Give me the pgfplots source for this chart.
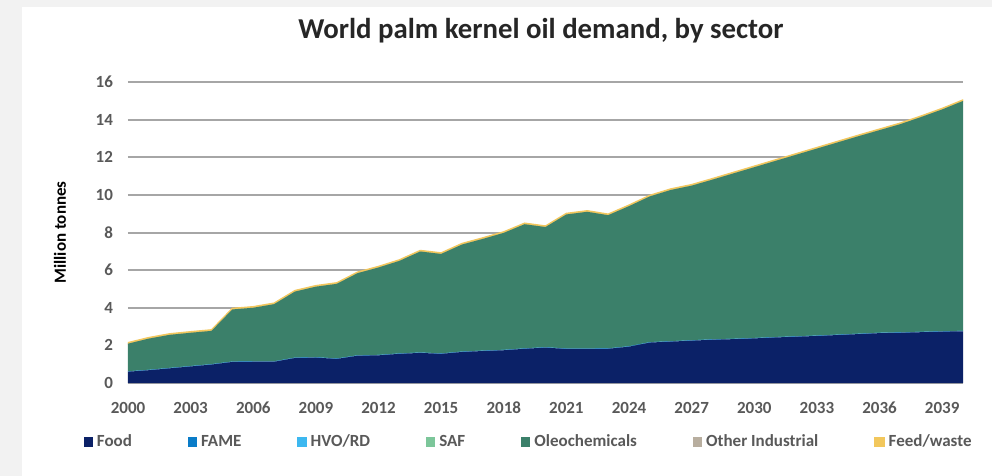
\documentclass[border=0pt]{standalone}
\usepackage{fontspec}
\setmainfont{Carlito}
\usepackage{pgfplots}
\usepackage{pgfplotstable}
\pgfplotsset{compat=1.18}

\definecolor{foodc}{HTML}{0B2167}
\definecolor{famec}{HTML}{0A7CC8}
\definecolor{hvoc}{HTML}{3DB8F0}
\definecolor{safc}{HTML}{7CC69A}
\definecolor{oleoc}{HTML}{3B806A}
\definecolor{otherc}{HTML}{B8AE9F}
\definecolor{feedc}{HTML}{F2C75C}
\definecolor{labc}{HTML}{595959}
\definecolor{gridc}{HTML}{A6A6A6}

% million tonnes by sector
\pgfplotstableread{
year food fame hvo saf oleo other feed
2000 0.60 0.02 0 0 1.47 0 0.06
2001 0.68 0.02 0 0 1.66 0 0.06
2002 0.78 0.02 0 0 1.76 0 0.06
2003 0.88 0.02 0 0 1.77 0 0.06
2004 0.98 0.02 0 0 1.77 0 0.06
2005 1.12 0.02 0 0 2.77 0 0.06
2006 1.13 0.02 0 0 2.85 0 0.06
2007 1.13 0.02 0 0 3.04 0 0.06
2008 1.33 0.02 0 0 3.51 0 0.06
2009 1.35 0.02 0 0 3.75 0 0.06
2010 1.28 0.02 0 0 3.97 0 0.06
2011 1.45 0.02 0 0 4.37 0 0.06
2012 1.47 0.02 0 0 4.65 0 0.06
2013 1.55 0.02 0 0 4.92 0 0.06
2014 1.60 0.02 0 0 5.37 0 0.06
2015 1.55 0.02 0 0 5.29 0 0.06
2016 1.65 0.02 0 0 5.69 0 0.06
2017 1.70 0.02 0 0 5.94 0 0.06
2018 1.74 0.02 0 0 6.22 0 0.06
2019 1.82 0.02 0 0 6.60 0 0.06
2020 1.88 0.02 0 0 6.39 0 0.06
2021 1.81 0.02 0 0 7.13 0 0.06
2022 1.81 0.02 0 0 7.27 0 0.06
2023 1.82 0.02 0 0 7.08 0 0.06
2024 1.93 0.02 0 0 7.45 0 0.06
2025 2.15 0.02 0 0 7.75 0 0.06
2026 2.20 0.02 0 0 8.04 0 0.06
2027 2.25 0.02 0 0 8.22 0 0.06
2028 2.30 0.02 0 0 8.49 0 0.06
2029 2.33 0.02 0 0 8.79 0 0.06
2030 2.37 0.02 0 0 9.08 0 0.06
2031 2.42 0.02 0 0 9.36 0 0.06
2032 2.46 0.02 0 0 9.65 0 0.06
2033 2.50 0.02 0 0 9.94 0 0.06
2034 2.55 0.02 0 0 10.22 0 0.06
2035 2.60 0.02 0 0 10.50 0 0.06
2036 2.65 0.02 0 0 10.77 0 0.06
2037 2.67 0.02 0 0 11.07 0 0.06
2038 2.70 0.02 0 0 11.42 0 0.06
2039 2.73 0.02 0 0 11.79 0 0.06
2040 2.75 0.02 0 0 12.22 0 0.06
}\demand

\begin{document}
\begin{tikzpicture}
% card background, 1px = 0.5pt
\useasboundingbox (0,0) rectangle (496pt,-238pt);
\fill[gray!10] (0,0) rectangle (496pt,-238pt);
\fill[white] (11pt,-3.5pt) rectangle (496pt,-238pt);

\node[font=\bfseries\fontsize{14.4}{17}\selectfont, text=black!85] at (270.5pt,-15.5pt)
  {World palm kernel oil demand, by sector};

\begin{axis}[
  at={(64pt,-191.5pt)}, anchor=south west,
  scale only axis, width=417.5pt, height=150.5pt,
  xmin=2000, xmax=2040, ymin=0, ymax=16,
  xtick={2000,2003,...,2039}, ytick={0,2,...,16},
  x tick label style={/pgf/number format/1000 sep={}},
  /pgf/number format/assume math mode=true,
  tick label style={font=\bfseries\fontsize{8.5}{10}\selectfont, text=labc},
  major tick length=0pt,
  axis line style={draw=none},
  ymajorgrids, grid style={gridc, line width=1pt},
  yticklabel style={xshift=-4pt},
  xticklabel style={yshift=-6pt},
  ylabel={Million tonnes},
  ylabel style={font=\bfseries\fontsize{8.5}{10}\selectfont, text=black, at={(-27.5pt,0.5)}},
  stack plots=y,
  legend columns=7,
  legend style={draw=none, fill=none, at={(0.481,-0.196)}, anchor=center,
    font=\bfseries\fontsize{8.5}{10}\selectfont, text=labc,
    /tikz/every even column/.append style={column sep=26pt},
    inner sep=0pt, row sep=0pt},
  legend image code/.code={\fill[#1] (0pt,-2.3pt) rectangle (4.6pt,2.3pt);},
  legend cell align=left,
]
\addplot[fill=foodc, draw=none] table[x=year, y=food] {\demand} \closedcycle;
\addlegendentry{Food}
\addplot[fill=famec, draw=none] table[x=year, y=fame] {\demand} \closedcycle;
\addlegendentry{FAME}
\addplot[fill=hvoc, draw=none] table[x=year, y=hvo] {\demand} \closedcycle;
\addlegendentry{HVO/RD}
\addplot[fill=safc, draw=none] table[x=year, y=saf] {\demand} \closedcycle;
\addlegendentry{SAF}
\addplot[fill=oleoc, draw=none] table[x=year, y=oleo] {\demand} \closedcycle;
\addlegendentry{Oleochemicals}
\addplot[fill=otherc, draw=none] table[x=year, y=other] {\demand} \closedcycle;
\addlegendentry{Other Industrial}
\addplot[fill=feedc, draw=feedc, line width=0.6pt] table[x=year, y=feed] {\demand} \closedcycle;
\addlegendentry{Feed/waste}
\end{axis}
\end{tikzpicture}
\end{document}
